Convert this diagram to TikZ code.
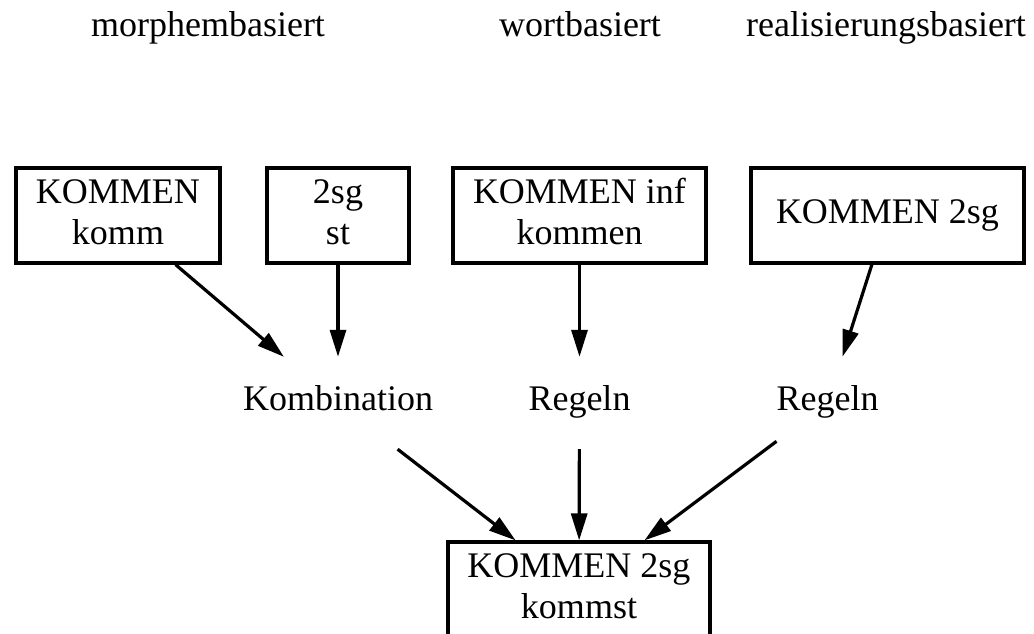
\documentclass[tikz,border=0pt]{standalone}
\usepackage{fontspec}
\setmainfont{Liberation Serif}
\usetikzlibrary{arrows.meta}
\begin{document}
\begin{tikzpicture}[x=1pt,y=-1pt,
  every node/.style={font=\fontsize{36}{41}\selectfont},
  box/.style={draw, line width=3.2pt, minimum height=95pt, inner sep=0pt, align=center},
  lbl/.style={minimum height=92pt, inner sep=0pt, text height=25pt, text depth=11pt},
  title/.style={anchor=base, inner sep=0pt},
  conn/.style={line width=3.2pt, -{Triangle[length=27pt,width=16pt]}}]
\useasboundingbox (0,0) rectangle (1034,633);
\clip (0,0) rectangle (1034,633);
% titles
\node[title] (t1) at (208,36) {morphembasiert};
\node[title] (t2) at (580,36) {wortbasiert};
\node[title] (t3) at (886,36) {realisierungsbasiert};
% top boxes
\node[box, minimum width=204pt] (b1) at (118,215.5) {KOMMEN\\komm\vphantom{g}};
\node[box, minimum width=142pt] (b2) at (338,215.5) {2sg\\st\vphantom{g}};
\node[box, minimum width=253pt] (b3) at (579.5,215.5) {KOMMEN inf\\kommen\vphantom{g}};
\node[box, minimum width=273pt] (b4) at (887.5,215.5) {KOMMEN 2sg};
% middle labels
\node[lbl] (k) at (338,403) {Kombination};
\node[lbl] (r1) at (579.5,403) {Regeln};
\node[lbl] (r2) at (827.7,403) {Regeln};
% result box
\node[box, minimum width=262pt] (e) at (579,589.5) {KOMMEN 2sg\\kommst\vphantom{g}};
% connectors
\draw[conn] (b1) -- (k);
\draw[conn] (b2) -- (k);
\draw[conn] (b3) -- (r1);
\draw[conn] (b4) -- (r2);
\draw[conn] (k) -- (e);
\draw[conn] (r1) -- (e);
\draw[conn] (r2) -- (e);
\end{tikzpicture}
\end{document}
